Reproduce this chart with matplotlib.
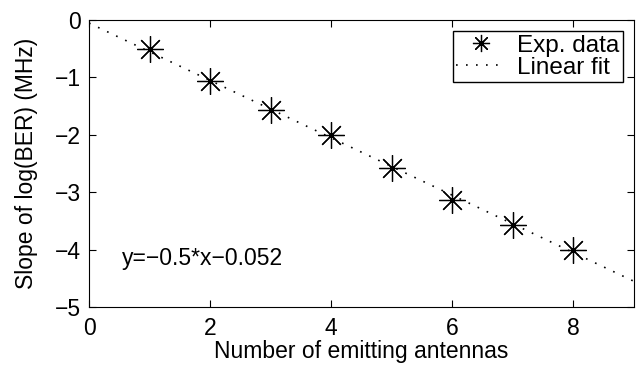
import matplotlib.pyplot as plt
import numpy as np

plt.rcParams['font.family'] = ['Liberation Sans', 'DejaVu Sans']
plt.rcParams['font.size'] = 16.5

# Measured slopes per number of emitting antennas
antennas = np.array([1, 2, 3, 4, 5, 6, 7, 8])
slopes = np.array([-0.51, -1.06, -1.57, -2.0, -2.57, -3.14, -3.58, -4.01])

# Linear fit coefficients
fit_a = -0.5
fit_b = -0.052
fit_x = np.array([0, 9])

fig = plt.figure(figsize=(6.38, 3.65), dpi=100)
ax = fig.add_axes([0.1395, 0.159, 0.854, 0.786])

ax.plot(antennas, slopes, linestyle='none', marker=(8, 2, 0), markersize=19,
        color='black', markeredgewidth=0.9, label='Exp. data')
ax.plot(fit_x, fit_a * fit_x + fit_b, color='black', linewidth=1.2,
        linestyle=(0, (1, 5)), label='Linear fit')

ax.text(0.55, -4.15, 'y=\u22120.5*x\u22120.052', va='center', ha='left')

ax.set_xlim(0, 9)
ax.set_ylim(-5, 0)
ax.set_xticks([0, 2, 4, 6, 8])
ax.set_yticks([-5, -4, -3, -2, -1, 0])
ax.tick_params(direction='in', top=True, right=True, length=5)
ax.tick_params(axis='x', pad=7)
ax.tick_params(axis='y', pad=6)
ax.set_xlabel('Number of emitting antennas', labelpad=0)
ax.set_ylabel('Slope of log(BER) (MHz)', labelpad=12)

leg = ax.legend(loc='upper right', fancybox=False, edgecolor='black',
                framealpha=1, borderaxespad=0.45, handlelength=2.0,
                borderpad=0.15, labelspacing=0.0, handletextpad=0.5,
                markerscale=0.65, fontsize=17.5)
leg.get_frame().set_linewidth(1.0)

plt.savefig('out.png', dpi=100)
